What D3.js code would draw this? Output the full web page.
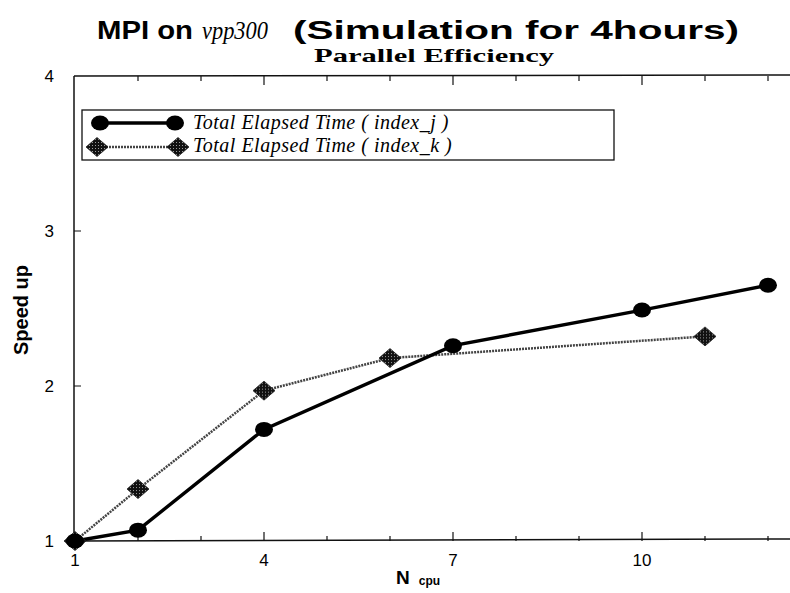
<!DOCTYPE html>
<meta http-equiv="content-type" content="text/html; charset=utf-8" />
<html lang="en">
<head>
<title>MPI on vpp300</title>
<script src="https://d3js.org/d3.v7.min.js"></script>
<style>
body { margin: 0; background: #fff; }
svg { display: block; }
</style>
</head>
<body>
<div id="plot"></div>
</body>
<script>
var width = 790, height = 593;

// data
var cpusJ = [1, 2, 4, 7, 10, 12];
var speedJ = [1.0, 1.07, 1.72, 2.26, 2.49, 2.65];
var cpusK = [1, 2, 4, 6, 11];
var speedK = [1.0, 1.335, 1.97, 2.18, 2.32];
var xTicks = [1, 4, 7, 10];
var yTicks = [1, 2, 3, 4];
var seriesNames = ["Total Elapsed Time ( index_j )", "Total Elapsed Time ( index_k )"];

var sans = "Liberation Sans, Arial, sans-serif";
var serif = "Liberation Serif, Times New Roman, serif";

var svg = d3.select("#plot").append("svg")
  .attr("width", width).attr("height", height);

var defs = svg.append("defs");
var pat = defs.append("pattern").attr("id", "check")
  .attr("width", 3).attr("height", 3).attr("patternUnits", "userSpaceOnUse");
pat.append("rect").attr("width", 3).attr("height", 3).attr("fill", "#111");
pat.append("rect").attr("x", 1).attr("y", 1).attr("width", 1).attr("height", 1).attr("fill", "#999");

var x = d3.scaleLinear().domain([1, 1 + 715 / 63]).range([75, 790]);
var y = d3.scaleLinear().domain([1, 4]).range([541, 76]);

// frame: left, top, bottom (right edge runs off the page)
var g = svg.append("g");
g.append("line").attr("x1", 74).attr("x2", 74).attr("y1", 76).attr("y2", 541)
  .attr("stroke", "#111").attr("stroke-width", 1.5);
g.append("line").attr("x1", 74).attr("x2", 790).attr("y1", 76).attr("y2", 75)
  .attr("stroke", "#111").attr("stroke-width", 1.5);
g.append("line").attr("x1", 74).attr("x2", 790).attr("y1", 541).attr("y2", 539)
  .attr("stroke", "#111").attr("stroke-width", 1.5);

// inward ticks
var minorX = d3.range(2, 13);
g.selectAll(".xt").data(minorX).enter().append("line")
  .attr("x1", d => x(d)).attr("x2", d => x(d))
  .attr("y1", 541).attr("y2", d => (d - 1) % 3 === 0 ? 532 : 536)
  .attr("stroke", "#111").attr("stroke-width", 1.2);
g.selectAll(".xtt").data(minorX).enter().append("line")
  .attr("x1", d => x(d)).attr("x2", d => x(d))
  .attr("y1", 76).attr("y2", d => (d - 1) % 3 === 0 ? 85 : 81)
  .attr("stroke", "#111").attr("stroke-width", 1.2);
g.selectAll(".yt").data([2, 3]).enter().append("line")
  .attr("x1", 74).attr("x2", 81)
  .attr("y1", d => y(d)).attr("y2", d => y(d))
  .attr("stroke", "#111").attr("stroke-width", 1);

// tick labels
g.selectAll(".xl").data(xTicks).enter().append("text")
  .attr("x", d => x(d)).attr("y", 566)
  .attr("text-anchor", "middle")
  .attr("font-family", sans).attr("font-size", 17)
  .text(d => d);
g.selectAll(".yl").data(yTicks).enter().append("text")
  .attr("x", 54).attr("y", d => y(d) + 6)
  .attr("text-anchor", "end")
  .attr("font-family", sans).attr("font-size", 17)
  .text(d => d);

// titles
svg.append("text").attr("x", 97).attr("y", 39)
  .attr("font-family", sans).attr("font-weight", "bold").attr("font-size", 25)
  .attr("textLength", 96).attr("lengthAdjust", "spacingAndGlyphs")
  .text("MPI on");
svg.append("text").attr("x", 202).attr("y", 39)
  .attr("font-family", serif).attr("font-style", "italic").attr("font-size", 25)
  .attr("textLength", 66).attr("lengthAdjust", "spacingAndGlyphs")
  .text("vpp300");
svg.append("text").attr("x", 293).attr("y", 39)
  .attr("font-family", sans).attr("font-weight", "bold").attr("font-size", 25)
  .attr("textLength", 446).attr("lengthAdjust", "spacingAndGlyphs")
  .text("(Simulation for 4hours)");
svg.append("text").attr("x", 314).attr("y", 62)
  .attr("font-family", serif).attr("font-weight", "bold").attr("font-size", 19)
  .attr("textLength", 240).attr("lengthAdjust", "spacingAndGlyphs")
  .text("Parallel Efficiency");

var xl = svg.append("text").attr("x", 396).attr("y", 584)
  .attr("font-family", sans).attr("font-weight", "bold").attr("font-size", 19);
xl.append("tspan").text("N");
xl.append("tspan").attr("font-size", 12).attr("dx", 9).attr("dy", 1).text("cpu");
svg.append("text").attr("transform", "translate(28,310) rotate(-90)").attr("text-anchor", "middle")
  .attr("font-family", sans).attr("font-weight", "bold").attr("font-size", 20)
  .text("Speed up");

// series
var dataJ = cpusJ.map((c, i) => [c, speedJ[i]]);
var dataK = cpusK.map((c, i) => [c, speedK[i]]);
var line = d3.line().x(d => x(d[0])).y(d => y(d[1]));

svg.append("path").datum(dataK).attr("d", line)
  .attr("fill", "none").attr("stroke", "#444").attr("stroke-width", 2.5)
  .attr("stroke-dasharray", "2,1");
svg.append("path").datum(dataJ).attr("d", line)
  .attr("fill", "none").attr("stroke", "#000").attr("stroke-width", 3.4);

var diamond = "M-11,0L0,-9.5L11,0L0,9.5Z";
svg.selectAll(".dk").data(dataK).enter().append("path")
  .attr("d", diamond)
  .attr("transform", d => "translate(" + x(d[0]) + "," + y(d[1]) + ")")
  .attr("fill", "url(#check)").attr("stroke", "#222").attr("stroke-width", 0.8);
svg.selectAll(".cj").data(dataJ).enter().append("ellipse")
  .attr("cx", d => x(d[0])).attr("cy", d => y(d[1]))
  .attr("rx", 9).attr("ry", 7.5).attr("fill", "#000");

// legend
var lg = svg.append("g");
lg.append("rect").attr("x", 82).attr("y", 110).attr("width", 532).attr("height", 50)
  .attr("fill", "#fff").attr("stroke", "#111").attr("stroke-width", 1.3);
lg.append("line").attr("x1", 100).attr("x2", 175).attr("y1", 123).attr("y2", 123)
  .attr("stroke", "#000").attr("stroke-width", 3.4);
lg.selectAll(".lc").data([100, 175]).enter().append("ellipse")
  .attr("cx", d => d).attr("cy", 123).attr("rx", 9).attr("ry", 7.5).attr("fill", "#000");
lg.append("line").attr("x1", 97).attr("x2", 178).attr("y1", 147).attr("y2", 147)
  .attr("stroke", "#444").attr("stroke-width", 2.5).attr("stroke-dasharray", "2,1");
lg.selectAll(".ld").data([97, 178]).enter().append("path")
  .attr("d", diamond).attr("transform", d => "translate(" + d + ",147)")
  .attr("fill", "url(#check)").attr("stroke", "#222").attr("stroke-width", 0.8);
lg.selectAll(".lt").data(seriesNames).enter().append("text")
  .attr("x", 193).attr("y", (d, i) => 129 + i * 23)
  .attr("font-family", serif).attr("font-style", "italic")
  .attr("font-size", 20).attr("letter-spacing", 0.5)
  .text(d => d);
</script>
</html>
